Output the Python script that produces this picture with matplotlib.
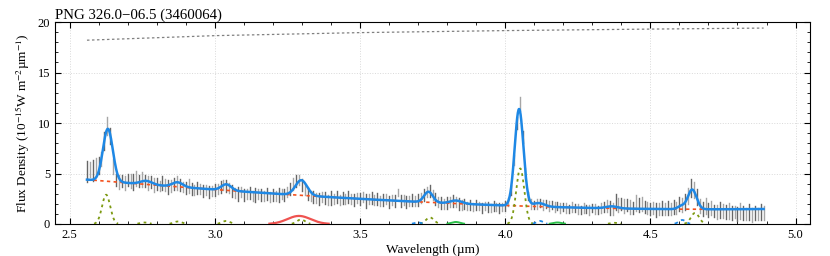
#!/usr/bin/env python3
"""
PNG 326.0-06.5 光谱拟合图：观测数据、连续谱、发射线分量与总模型
"""

import numpy as np
import matplotlib.pyplot as plt
from matplotlib.ticker import MultipleLocator

plt.rcParams['font.family'] = ['Liberation Serif', 'DejaVu Serif']
plt.rcParams['mathtext.fontset'] = 'stix'

# 观测数据 (2.56 - 4.89 µm, 步长 0.01)
WAVE_START = 2.56
WAVE_STEP = 0.01
flux = [
    5.2, 5.4, 5.3, 5.6, 5.8, 6.4, 8.2, 9.7, 8.7, 5.7,
    4.4, 4.2, 4.3, 4.1, 4.4, 4.3, 4.2, 4.5, 4.3, 4.4,
    4.3, 4.1, 4.2, 3.9, 4.0, 3.8, 4.1, 3.9, 3.7, 3.8,
    4.0, 4.1, 3.9, 3.7, 3.6, 3.8, 3.5, 3.4, 3.6, 3.5,
    3.3, 3.4, 3.2, 3.3, 3.4, 3.5, 3.7, 3.9, 3.8, 3.6,
    3.3, 3.1, 3.0, 3.2, 2.9, 3.0, 3.1, 2.8, 2.9, 3.0,
    2.9, 2.8, 3.0, 2.7, 2.9, 2.8, 2.9, 3.0, 2.9, 3.2,
    3.5, 4.0, 4.3, 4.4, 3.9, 3.4, 3.0, 2.8, 2.7, 2.6,
    2.5, 2.7, 2.6, 2.4, 2.6, 2.5, 2.7, 2.4, 2.6, 2.5,
    2.7, 2.5, 2.4, 2.6, 2.5, 2.7, 2.3, 2.5, 2.6, 2.4,
    2.5, 2.3, 2.4, 2.5, 2.2, 2.4, 2.3, 3.1, 2.3, 2.4,
    2.2, 2.3, 2.4, 2.3, 2.4, 2.6, 2.9, 3.2, 3.3, 2.9,
    2.5, 2.2, 2.1, 2.0, 2.1, 2.2, 2.3, 2.2, 2.0, 1.9,
    2.0, 1.8, 1.9, 1.7, 1.9, 1.8, 1.6, 1.8, 1.7, 1.6,
    1.8, 1.7, 1.6, 1.7, 1.8, 2.2, 3.4, 6.3, 10.0, 11.9,
    8.6, 5.0, 2.8, 2.0, 1.9, 2.0, 2.1, 1.9, 2.0, 1.8,
    1.9, 1.7, 1.8, 1.6, 1.7, 1.6, 1.5, 1.7, 1.6, 1.5,
    1.4, 1.6, 1.5, 1.4, 1.6, 1.5, 1.4, 1.6, 1.7, 1.8,
    1.6, 1.5, 2.2, 1.9, 2.0, 1.8, 1.9, 1.7, 1.6, 2.1,
    1.9, 2.0, 1.7, 1.6, 1.5, 1.6, 1.4, 1.5, 1.6, 1.5,
    1.6, 1.5, 1.7, 1.6, 2.0, 1.9, 2.2, 2.8, 3.6, 3.4,
    2.7, 1.8, 1.5, 1.8, 1.4, 1.6, 1.3, 1.2, 1.4, 1.3,
    1.2, 1.3, 1.1, 1.2, 1.0, 1.3, 1.1, 1.0, 1.2, 0.9,
    1.1, 1.0, 1.2, 1.1,
]
flux_err = [
    1.0, 0.7, 1.0, 0.9, 0.8, 0.7, 0.9, 0.9, 0.8, 0.7,
    0.6, 0.7, 0.6, 0.7, 0.6, 0.7, 0.8, 0.7, 0.6, 0.7,
    0.6, 0.7, 0.6, 0.7, 0.6, 0.5, 0.7, 0.6, 0.7, 0.6,
    0.6, 0.7, 0.6, 0.5, 0.6, 0.7, 0.6, 0.5, 0.6, 0.5,
    0.6, 0.5, 0.6, 0.5, 0.6, 0.5, 0.6, 0.5, 0.6, 0.5,
    0.6, 0.5, 0.7, 0.5, 0.6, 0.5, 0.6, 0.5, 0.7, 0.5,
    0.6, 0.5, 0.6, 0.5, 0.6, 0.5, 0.7, 0.5, 0.6, 0.5,
    0.6, 0.6, 0.6, 0.5, 0.6, 0.5, 0.6, 0.5, 0.6, 0.5,
    0.6, 0.5, 0.6, 0.5, 0.7, 0.5, 0.6, 0.5, 0.6, 0.5,
    0.6, 0.5, 0.6, 0.5, 0.6, 0.5, 0.7, 0.5, 0.6, 0.5,
    0.6, 0.5, 0.6, 0.5, 0.6, 0.5, 0.6, 0.35, 0.6, 0.5,
    0.6, 0.5, 0.6, 0.5, 0.6, 0.5, 0.6, 0.5, 0.6, 0.5,
    0.6, 0.5, 0.6, 0.5, 0.6, 0.5, 0.6, 0.5, 0.6, 0.5,
    0.5, 0.4, 0.5, 0.4, 0.5, 0.4, 0.5, 0.4, 0.5, 0.4,
    0.5, 0.4, 0.5, 0.4, 0.5, 0.4, 0.5, 0.5, 0.6, 0.7,
    0.6, 0.5, 0.4, 0.5, 0.4, 0.5, 0.4, 0.5, 0.4, 0.5,
    0.4, 0.5, 0.4, 0.5, 0.4, 0.5, 0.4, 0.5, 0.4, 0.5,
    0.4, 0.5, 0.4, 0.5, 0.4, 0.5, 0.4, 0.5, 0.5, 0.6,
    0.7, 0.6, 0.8, 0.7, 0.6, 0.7, 0.6, 0.7, 0.6, 0.8,
    0.7, 0.7, 0.6, 0.6, 0.6, 0.6, 0.7, 0.6, 0.7, 0.6,
    0.7, 0.6, 0.7, 0.6, 0.7, 0.7, 0.8, 0.8, 0.9, 0.8,
    0.8, 0.7, 0.7, 0.8, 0.7, 0.7, 0.6, 0.7, 0.8, 0.7,
    0.7, 0.8, 0.7, 0.6, 0.7, 0.8, 0.7, 0.6, 0.8, 0.7,
    0.7, 0.6, 0.8, 0.7,
]

# 连续谱节点 (红色虚线)
cont_wave = [2.56, 2.8, 3.0, 3.3, 3.5, 3.75, 4.0, 4.25, 4.5, 4.89]
cont_flux = [4.45, 3.8, 3.3, 2.85, 2.6, 2.2, 1.75, 1.58, 1.5, 1.5]

# 顶部灰色虚线
top_wave = [2.56, 3.0, 3.5, 4.0, 4.5, 4.89]
top_flux = [18.2, 18.65, 18.95, 19.15, 19.3, 19.4]

# 总模型中的高斯发射线 (蓝线)
model_center = [2.632, 2.764, 2.872, 3.040, 3.298, 3.736, 3.831, 4.048, 4.116, 4.367, 4.606, 4.644]
model_amp = [5.2, 0.35, 0.45, 0.6, 1.5, 1.05, 0.3, 9.6, 0.35, 0.2, 0.3, 1.95]
model_sigma = [0.017, 0.02, 0.018, 0.017, 0.02, 0.015, 0.02, 0.015, 0.02, 0.02, 0.012, 0.015]

# 氢复合线分量 (橄榄绿点线)
h_center = [2.626, 2.758, 2.873, 3.039, 3.297, 3.741, 4.052, 4.376, 4.654]
h_amp = [2.9, 0.15, 0.25, 0.3, 0.45, 0.65, 5.5, 0.12, 1.1]
h_sigma = [0.014, 0.014, 0.014, 0.014, 0.014, 0.014, 0.014, 0.014, 0.014]

# PAH 3.3 µm 分量 (红色实线)
pah_center = [3.29]
pah_amp = [0.8]
pah_sigma = [0.04]

# 其它分子线 (绿色实线)
mol_center = [3.83, 4.18]
mol_amp = [0.2, 0.15]
mol_sigma = [0.015, 0.015]

# 其它分量 (蓝色虚线)
other_center = [3.70, 4.12, 4.61]
other_amp = [0.15, 0.3, 0.4]
other_sigma = [0.012, 0.012, 0.012]


def gaussians(x, centers, amps, sigmas):
    """高斯线叠加"""
    y = np.zeros_like(x)
    for c, a, s in zip(centers, amps, sigmas):
        y += a * np.exp(-((x - c) ** 2) / (2 * s ** 2))
    return y


def plot_components(ax, x, centers, amps, sigmas, **kw):
    """逐条画分量，只画高于基线的部分"""
    for c, a, s in zip(centers, amps, sigmas):
        y = a * np.exp(-((x - c) ** 2) / (2 * s ** 2))
        y = np.where(y > 0.03, y, np.nan)
        ax.plot(x, y, **kw)


wave = np.round(WAVE_START + WAVE_STEP * np.arange(len(flux)), 3)
flux = np.array(flux)
flux_err = np.array(flux_err)

fine = np.linspace(wave[0], wave[-1], 2000)
cont_coef = np.polyfit(cont_wave, cont_flux, 3)
cont = np.polyval(cont_coef, fine)
model = cont + gaussians(fine, model_center, model_amp, model_sigma)

fig = plt.figure(figsize=(8.3, 2.56), dpi=100)
ax = fig.add_axes([0.0663, 0.125, 0.9097, 0.789])

ax.grid(True, color='0.85', linestyle=':', linewidth=0.7)

# 观测数据 (误差棒)
for i in range(len(wave)):
    col = '0.4' if i % 2 == 0 else '0.65'
    ax.plot([wave[i], wave[i]], [flux[i] - flux_err[i], flux[i] + flux_err[i]],
            color=col, linewidth=1.0, zorder=2)

ax.plot(top_wave, top_flux, linestyle=(0, (2, 2)), color='0.5', linewidth=0.9)
ax.plot(fine, cont, linestyle=(0, (2, 2)), color='#f4511e', linewidth=1.2, zorder=3)
ax.plot(fine, model, color='#1e88e5', linewidth=1.8, zorder=4)

plot_components(ax, fine, h_center, h_amp, h_sigma,
                color='#7d9a12', linestyle=(0, (1.5, 2)), linewidth=1.3, zorder=3)
plot_components(ax, fine, pah_center, pah_amp, pah_sigma,
                color='#ef5350', linewidth=1.6, zorder=3)
plot_components(ax, fine, mol_center, mol_amp, mol_sigma,
                color='#2cbf4a', linewidth=1.4, zorder=3)
plot_components(ax, fine, other_center, other_amp, other_sigma,
                color='#1e88e5', linestyle=(0, (2, 2)), linewidth=1.3, zorder=3)

ax.set_xlim(2.45, 5.05)
ax.set_ylim(0, 20)
ax.xaxis.set_major_locator(MultipleLocator(0.5))
ax.xaxis.set_minor_locator(MultipleLocator(0.1))
ax.yaxis.set_major_locator(MultipleLocator(5))
ax.yaxis.set_minor_locator(MultipleLocator(1))
ax.xaxis.set_major_formatter(plt.FormatStrFormatter('%.1f'))
ax.tick_params(which='both', direction='in', top=True, right=True, labelsize=9)
ax.tick_params(which='major', length=4)
ax.tick_params(which='minor', length=2)

ax.set_xlabel('Wavelength (µm)', fontsize=9.5, labelpad=2)
ax.set_ylabel(r'Flux Density (10$^{-15}$W m$^{-2}$µm$^{-1}$)', fontsize=9.5, labelpad=4)
ax.set_title('PNG 326.0\u221206.5 (3460064)', loc='left', fontsize=10.7, pad=2)

fig.savefig('out.png', dpi=100)
plt.close(fig)
